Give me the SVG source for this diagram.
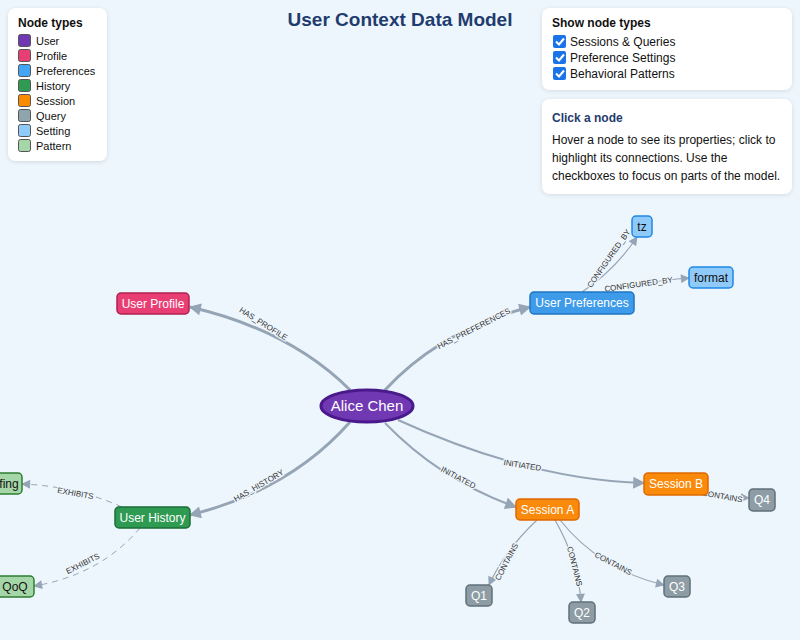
<svg xmlns="http://www.w3.org/2000/svg" width="800" height="640" viewBox="0 0 800 640">
<defs>
<style>
text{font-family:"Liberation Sans",Arial,sans-serif}
.panel{fill:#fff;filter:url(#sh)}
.e{fill:none;stroke:#95a5b5}
.thick{stroke-width:3}
.mid{stroke-width:2}
.thin{stroke-width:1.2}
.dash{stroke-width:1;stroke-dasharray:6 5}
.el{font-size:8px;fill:#333;stroke:#eef6fd;stroke-width:2.5;paint-order:stroke;text-anchor:middle}
.nl{font-size:12px;fill:#fff;text-anchor:middle}
.nd{font-size:12px;fill:#111;text-anchor:middle}
.lg{font-size:11px;fill:#111}
.sw{stroke:#555;stroke-width:1}
</style>
<filter id="sh" x="-10%" y="-10%" width="120%" height="130%"><feDropShadow dx="0" dy="1" stdDeviation="2" flood-color="#000" flood-opacity="0.12"/></filter>
<marker id="aL" viewBox="0 0 10 10" refX="9" refY="5" markerWidth="14" markerHeight="12" markerUnits="userSpaceOnUse" orient="auto"><path d="M0,0 L10,5 L0,10 z" fill="#95a5b5"/></marker>
<marker id="aS" viewBox="0 0 10 10" refX="9" refY="5" markerWidth="10" markerHeight="9" markerUnits="userSpaceOnUse" orient="auto"><path d="M0,0 L10,5 L0,10 z" fill="#95a5b5"/></marker>
</defs>
<rect width="800" height="640" fill="#eef6fd"/>

<g id="connectors">
<path class="e thick" d="M350,390 Q290,330 190,307" marker-end="url(#aL)"/>
<path class="e thick" d="M385,390 Q440,330 530,307" marker-end="url(#aL)"/>
<path class="e thick" d="M350,422 Q290,490 190,515" marker-end="url(#aL)"/>
<path class="e mid" d="M385,423 Q440,480 516,507" marker-end="url(#aL)"/>
<path class="e mid" d="M398,420 Q530,480 644,483" marker-end="url(#aL)"/>
<path class="e thin" d="M582,292 Q615,270 637,237" marker-end="url(#aS)"/>
<path class="e thin" d="M606,292 Q640,282 689,278" marker-end="url(#aS)"/>
<path class="e dash" d="M122,507 Q75,486 22,484" marker-end="url(#aS)"/>
<path class="e dash" d="M140,528 Q100,575 34,586" marker-end="url(#aS)"/>
<path class="e thin" d="M537,520 Q505,550 489,585" marker-end="url(#aS)"/>
<path class="e thin" d="M555,520 Q578,560 581,602" marker-end="url(#aS)"/>
<path class="e thin" d="M560,520 Q600,570 664,585" marker-end="url(#aS)"/>
<path class="e thin" d="M700,492 Q725,497 749,498" marker-end="url(#aS)"/>
<text class="el" transform="translate(262,326) rotate(32)">HAS_PROFILE</text>
<text class="el" transform="translate(475,331) rotate(-27)">HAS_PREFERENCES</text>
<text class="el" transform="translate(260,488) rotate(-30)">HAS_HISTORY</text>
<text class="el" transform="translate(457,480) rotate(28)">INITIATED</text>
<text class="el" transform="translate(522,468) rotate(9)">INITIATED</text>
<text class="el" transform="translate(611,260) rotate(-55)">CONFIGURED_BY</text>
<text class="el" transform="translate(639,287) rotate(-8)">CONFIGURED_BY</text>
<text class="el" transform="translate(75,496) rotate(10)">EXHIBITS</text>
<text class="el" transform="translate(84,566) rotate(-27)">EXHIBITS</text>
<text class="el" transform="translate(509,563) rotate(-62)">CONTAINS</text>
<text class="el" transform="translate(572,567) rotate(76)">CONTAINS</text>
<text class="el" transform="translate(612,566) rotate(28)">CONTAINS</text>
<text class="el" transform="translate(722,499) rotate(10)">CONTAINS</text>
</g>

<g id="n-alice"><ellipse cx="367" cy="406" rx="46" ry="16" fill="#7138b3" stroke="#4a1a8c" stroke-width="3"/><text class="nl" x="367" y="411" style="font-size:15px">Alice Chen</text></g>
<g id="n-profile"><rect x="117" y="293" width="72" height="21" rx="4" fill="#e83e73" stroke="#b0204f" stroke-width="1.5"/><text class="nl" x="153" y="307.5">User Profile</text></g>
<g id="n-prefs"><rect x="530" y="292" width="104" height="22" rx="4" fill="#3d9be9" stroke="#1f75c4" stroke-width="1.5"/><text class="nl" x="582" y="307">User Preferences</text></g>
<g id="n-tz"><rect x="632" y="216" width="20" height="21" rx="4" fill="#90caf9" stroke="#1e88e5" stroke-width="1.5"/><text class="nd" x="642" y="231">tz</text></g>
<g id="n-format"><rect x="689" y="267" width="44" height="21" rx="4" fill="#90caf9" stroke="#1e88e5" stroke-width="1.5"/><text class="nd" x="711" y="282">format</text></g>
<g id="n-history"><rect x="115" y="507" width="75" height="21" rx="4" fill="#2e9a52" stroke="#1b6e36" stroke-width="1.5"/><text class="nl" x="152.5" y="522">User History</text></g>
<g id="n-fing"><rect x="-30" y="473" width="52" height="21" rx="4" fill="#a5d6a7" stroke="#2e7d32" stroke-width="1.5"/><text class="nd" x="9" y="488">fing</text></g>
<g id="n-qoq"><rect x="-5" y="576" width="39" height="21" rx="4" fill="#a5d6a7" stroke="#2e7d32" stroke-width="1.5"/><text class="nd" x="15" y="591">QoQ</text></g>
<g id="n-sessA"><rect x="516" y="499" width="63" height="21" rx="4" fill="#f98a0c" stroke="#e06a00" stroke-width="1.5"/><text class="nl" x="547.5" y="514">Session A</text></g>
<g id="n-sessB"><rect x="644" y="473" width="64" height="22" rx="4" fill="#f98a0c" stroke="#e06a00" stroke-width="1.5"/><text class="nl" x="676" y="488">Session B</text></g>
<g id="n-q1"><rect x="466" y="585" width="26" height="21" rx="4" fill="#8d9ca5" stroke="#5f707a" stroke-width="1.5"/><text class="nl" x="479" y="600">Q1</text></g>
<g id="n-q2"><rect x="569" y="602" width="26" height="21" rx="4" fill="#8d9ca5" stroke="#5f707a" stroke-width="1.5"/><text class="nl" x="582" y="617">Q2</text></g>
<g id="n-q3"><rect x="664" y="576" width="26" height="21" rx="4" fill="#8d9ca5" stroke="#5f707a" stroke-width="1.5"/><text class="nl" x="677" y="591">Q3</text></g>
<g id="n-q4"><rect x="749" y="489" width="26" height="22" rx="4" fill="#8d9ca5" stroke="#5f707a" stroke-width="1.5"/><text class="nl" x="762" y="504">Q4</text></g>

<text x="400" y="26" text-anchor="middle" style="font-size:19px;font-weight:bold;fill:#1f3c6e">User Context Data Model</text>

<g id="legend">
<rect class="panel" x="8" y="8" width="99" height="153" rx="8"/>
<text x="18" y="27" style="font-size:12px;font-weight:bold;fill:#111">Node types</text>
<rect class="sw" x="18.5" y="34.5" width="12" height="12" rx="2" fill="#7138b3"/><text class="lg" x="36" y="45">User</text>
<rect class="sw" x="18.5" y="49.5" width="12" height="12" rx="2" fill="#e83e73"/><text class="lg" x="36" y="60">Profile</text>
<rect class="sw" x="18.5" y="64.5" width="12" height="12" rx="2" fill="#42a5f5"/><text class="lg" x="36" y="75">Preferences</text>
<rect class="sw" x="18.5" y="79.5" width="12" height="12" rx="2" fill="#2e9a52"/><text class="lg" x="36" y="90">History</text>
<rect class="sw" x="18.5" y="94.5" width="12" height="12" rx="2" fill="#fb8c00"/><text class="lg" x="36" y="105">Session</text>
<rect class="sw" x="18.5" y="109.5" width="12" height="12" rx="2" fill="#90a4ae"/><text class="lg" x="36" y="120">Query</text>
<rect class="sw" x="18.5" y="124.5" width="12" height="12" rx="2" fill="#90caf9"/><text class="lg" x="36" y="135">Setting</text>
<rect class="sw" x="18.5" y="139.5" width="12" height="12" rx="2" fill="#a5d6a7"/><text class="lg" x="36" y="150">Pattern</text>
</g>

<g id="filters">
<rect class="panel" x="542" y="8" width="250" height="82" rx="8"/>
<text x="552" y="27" style="font-size:12px;font-weight:bold;fill:#111">Show node types</text>
<g fill="#1a73e8"><rect x="553" y="35" width="13" height="13" rx="2"/><rect x="553" y="51" width="13" height="13" rx="2"/><rect x="553" y="67" width="13" height="13" rx="2"/></g>
<g fill="none" stroke="#fff" stroke-width="2"><path d="M556,41.5 l3,3 l5,-6"/><path d="M556,57.5 l3,3 l5,-6"/><path d="M556,73.5 l3,3 l5,-6"/></g>
<text x="570" y="46" style="font-size:12px;fill:#111">Sessions &amp; Queries</text>
<text x="570" y="62" style="font-size:12px;fill:#111">Preference Settings</text>
<text x="570" y="78" style="font-size:12px;fill:#111">Behavioral Patterns</text>
</g>

<g id="info">
<rect class="panel" x="542" y="99" width="250" height="95" rx="8"/>
<text x="552" y="122" style="font-size:12px;font-weight:bold;fill:#1f3c6e">Click a node</text>
<text x="552" y="144" style="font-size:12px;fill:#111">Hover a node to see its properties; click to</text>
<text x="552" y="162" style="font-size:12px;fill:#111">highlight its connections. Use the</text>
<text x="552" y="180" style="font-size:12px;fill:#111">checkboxes to focus on parts of the model.</text>
</g>
</svg>
